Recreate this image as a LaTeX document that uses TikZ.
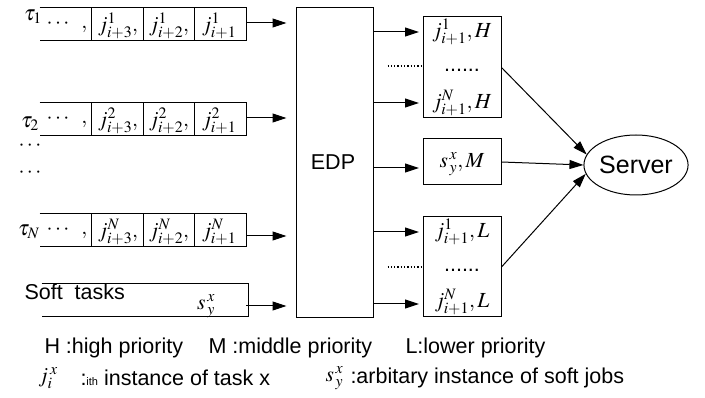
\documentclass[tikz,border=0pt]{standalone}
\usepackage{mathptmx}
\usepackage{fontspec}
\setmainfont{Liberation Sans}
\usetikzlibrary{arrows.meta,shapes.geometric,positioning}

\begin{document}
\begin{tikzpicture}[x=1pt,y=-1pt,line width=1pt,
     font=\fontsize{21.5}{25}\selectfont,
     arr/.style={-{Triangle[length=14pt,width=9pt]}},
     queue/.style={minimum width=206pt,minimum height=32pt,inner sep=0pt},
     box/.style={draw,minimum width=78pt,inner sep=0pt},
     txt/.style={inner sep=0pt}]
     \useasboundingbox (0,0) rectangle (705,398);
     % queues of the hard tasks
     \foreach \n/\k/\y/\ay in {q1/1/24/23, q2/2/119/118, qN/N/230/236}{
       \node[queue] (\n) at (143,\y) {};
       \draw (\n.north west) -- (\n.north east) -- (\n.south east) -- (\n.south west);
       \foreach \x in {91,143,194} \draw (\x,\y-16) -- (\x,\y+16);
       \node[txt] at (67,\y+2) {$\cdots\;\;,$};
       \node[txt] at (118,\y+2) {$j^{\k}_{i+3},$};
       \node[txt] at (169,\y+2) {$j^{\k}_{i+2},$};
       \node[txt] at (219,\y+2) {$j^{\k}_{i+1}$};
       \coordinate (\n out) at (246,\ay);
     }
     \node[txt] (t1) at (33,17) {$\tau_1$};
     \node[txt] (t2) at (30,124) {$\tau_2$};
     \node[txt] (tN) at (29,232) {$\tau_N$};
     \node[txt] (d1) at (30,146) {$\cdots$};
     \node[txt] (d2) at (30,173) {$\cdots$};
     % soft tasks
     \node[queue] (qs) at (145,300) {};
     \draw (qs.north west) -- (qs.north east) -- (qs.south east) -- (qs.south west);
     \node[txt,anchor=west] (soft) at (24,292) {Soft\ \ tasks};
     \node[txt] (sq) at (206,306) {$s^{\,x}_{\,y}$};
     \coordinate (qsout) at (246,306);
     % scheduler
     \node[draw,minimum width=77pt,minimum height=310pt,inner sep=0pt] (edp) at (334.5,163) {};
     \node[txt] at (333,162) {EDP};
     \foreach \n in {q1,q2,qN,qs} \draw[arr] (\n out) -- ([xshift=-9pt]\n out -| edp.west);
     % priority queues
     \node[box,minimum height=101pt] (hbox) at (462,67.5) {};
     \node[txt] (h1) at (462,32) {$j^{1}_{i+1},H$};
     \node[txt] at (462,70) {......};
     \node[txt] (hN) at (462,103) {$j^{N}_{i+1},H$};
     \node[box,minimum height=46pt] (mbox) at (462,162) {};
     \node[txt] (m1) at (462,164) {$s^{\,x}_{\,y},M$};
     \node[box,minimum height=100pt] (lbox) at (462,267) {};
     \node[txt] (l1) at (462,232) {$j^{1}_{i+1},L$};
     \node[txt] at (462,270) {......};
     \node[txt] (lN) at (462,302) {$j^{N}_{i+1},L$};
     \draw[arr] (edp.east |- 0,32) -- (419,32);
     \draw[arr] (edp.east |- 0,103) -- (419,103);
     \draw[dotted,line width=1.3pt] (edp.east |- 0,66) ++(14,0) -- (421,66);
     \draw[arr] (edp.east |- 0,168) -- (419,168);
     \draw[arr] (edp.east |- 0,232) -- (419,232);
     \draw[arr] (edp.east |- 0,304) -- (419,304);
     \draw[dotted,line width=1.3pt] (edp.east |- 0,267) ++(14,0) -- (421,267);
     % server
     \node[draw,ellipse,minimum width=92pt,minimum height=60pt,inner sep=0pt,
           font=\fontsize{25}{28}\selectfont] (server) at (636,165) {Server};
     \draw[arr] (hbox.east) -- (server.168);
     \draw[arr] (mbox.east) -- (server.west);
     \draw[arr] (lbox.east) -- (server.190);
     % legend
     \node[txt,anchor=west] (lh) at (44,348) {H :high priority};
     \node[txt,anchor=west] (lm) at (208,348) {M :middle priority};
     \node[txt,anchor=west] (ll) at (405,348) {L:lower priority};
     \node[txt,anchor=west] (lj) at (38,378) {$j_i^{\,x}$};
     \node[txt,anchor=west] (lj2) at (80,378) {:{\fontsize{11}{12}\selectfont ith} instance of task x};
     \node[txt,anchor=west] (ls) at (325,378) {$s^{\,x}_{\,y}$};
     \node[txt,anchor=west] (ls2) at (350,378) {:arbitary instance of soft jobs};
\end{tikzpicture}
\end{document}
